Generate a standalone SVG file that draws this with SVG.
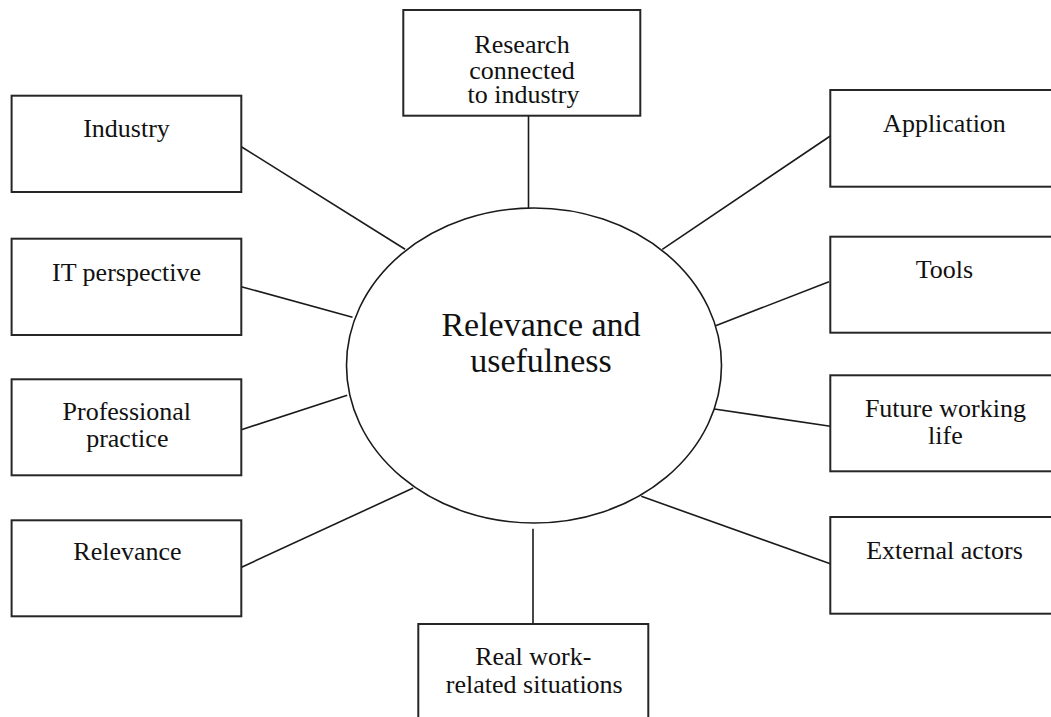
<svg xmlns="http://www.w3.org/2000/svg" width="1051" height="717" viewBox="0 0 1051 717">
  <style>
    .box { fill: #ffffff; stroke: #262626; stroke-width: 2; }
    .hub { fill: #ffffff; stroke: #1a1a1a; stroke-width: 1.6; }
    .link { stroke: #1a1a1a; stroke-width: 1.6; fill: none; }
    .lbl { font-family: "Liberation Serif", "Times New Roman", serif; font-size: 26px; fill: #111111; text-anchor: middle; }
    .hubtxt { font-family: "Liberation Serif", "Times New Roman", serif; font-size: 34px; fill: #111111; text-anchor: middle; }
  </style>

  <rect width="1051" height="717" fill="#ffffff"/>

  <!-- connectors from the central ellipse to each box -->
  <g id="connectors">
    <line class="link" x1="528.5" y1="115.7" x2="528.5" y2="208.5"/>
    <line class="link" x1="241.3" y1="146.7" x2="405.1" y2="249.3"/>
    <line class="link" x1="241.3" y1="286.7" x2="352.5" y2="317.3"/>
    <line class="link" x1="241.3" y1="429.7" x2="347.2" y2="395.3"/>
    <line class="link" x1="240.5" y1="567.7" x2="413.2" y2="488"/>
    <line class="link" x1="533" y1="528.7" x2="533" y2="624"/>
    <line class="link" x1="830.3" y1="136" x2="662.3" y2="249.3"/>
    <line class="link" x1="829" y1="281.7" x2="715" y2="326"/>
    <line class="link" x1="830.3" y1="426.3" x2="712.6" y2="408.7"/>
    <line class="link" x1="830.3" y1="563.7" x2="641.3" y2="496.3"/>
  </g>

  <!-- central concept -->
  <g id="node-center">
    <ellipse class="hub" cx="534" cy="365.5" rx="187.5" ry="157.5"/>
    <text class="hubtxt" x="541" y="336">Relevance and</text>
    <text class="hubtxt" x="541" y="372">usefulness</text>
  </g>

  <g id="node-research">
    <rect class="box" x="403.3" y="10" width="237" height="105.7"/>
    <text class="lbl" x="522" y="53">Research</text>
    <text class="lbl" x="522" y="78.5">connected</text>
    <text class="lbl" x="523.5" y="103">to industry</text>
  </g>

  <g id="node-industry">
    <rect class="box" x="11.6" y="95.7" width="229.7" height="96.3"/>
    <text class="lbl" x="126.5" y="136.7">Industry</text>
  </g>

  <g id="node-it">
    <rect class="box" x="11.6" y="238.7" width="229.7" height="96.3"/>
    <text class="lbl" x="126.5" y="280.5">IT perspective</text>
  </g>

  <g id="node-professional">
    <rect class="box" x="11.6" y="379.3" width="229.7" height="96"/>
    <text class="lbl" x="126.8" y="419.7">Professional</text>
    <text class="lbl" x="127.3" y="447">practice</text>
  </g>

  <g id="node-relevance">
    <rect class="box" x="11.6" y="520.3" width="229.7" height="96"/>
    <text class="lbl" x="127.5" y="560.3">Relevance</text>
  </g>

  <g id="node-realwork">
    <rect class="box" x="418.3" y="624" width="230" height="110"/>
    <text class="lbl" x="533.3" y="665">Real work-</text>
    <text class="lbl" x="534.3" y="692.7">related situations</text>
  </g>

  <g id="node-application">
    <rect class="box" x="830.3" y="90" width="229.7" height="96.7"/>
    <text class="lbl" x="944.5" y="131.7">Application</text>
  </g>

  <g id="node-tools">
    <rect class="box" x="830.3" y="236.7" width="229.7" height="96"/>
    <text class="lbl" x="944.5" y="278.3">Tools</text>
  </g>

  <g id="node-future">
    <rect class="box" x="830.3" y="375.3" width="229.7" height="96"/>
    <text class="lbl" x="945.4" y="417">Future working</text>
    <text class="lbl" x="945.4" y="444.3">life</text>
  </g>

  <g id="node-external">
    <rect class="box" x="830.3" y="517" width="229.7" height="96.7"/>
    <text class="lbl" x="944.5" y="558.7">External actors</text>
  </g>
</svg>
